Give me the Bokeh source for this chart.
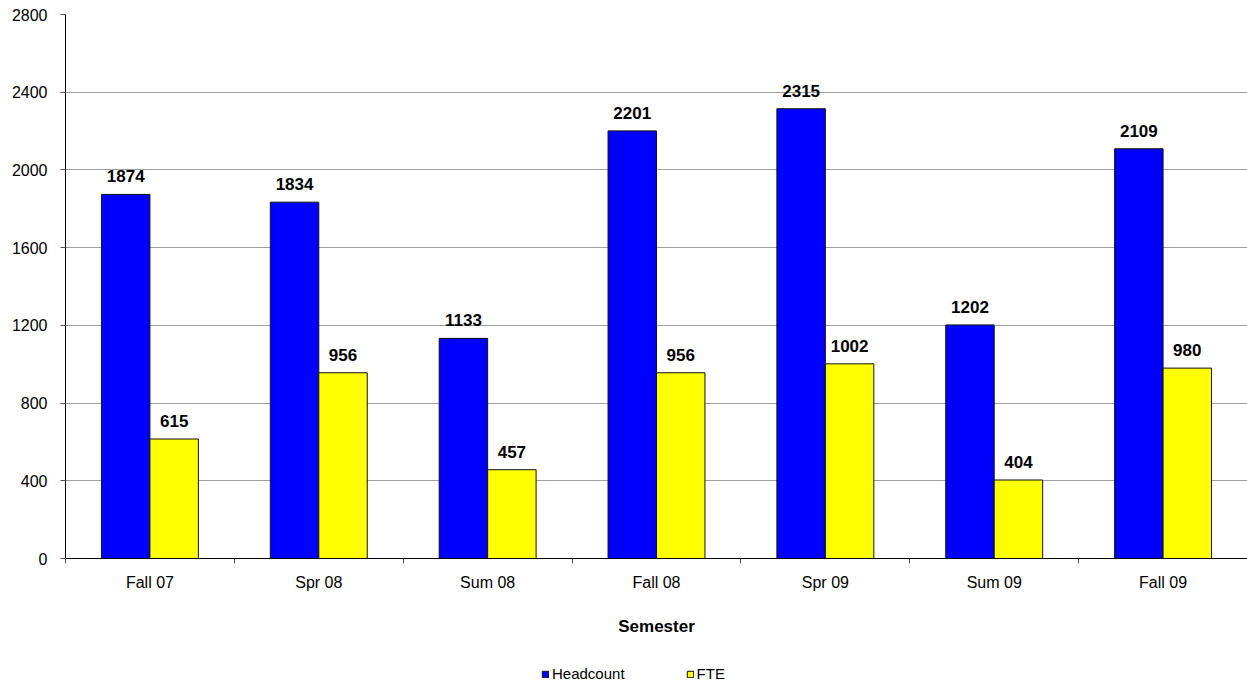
from bokeh.plotting import figure
from bokeh.models import (Range1d, FixedTicker, ColumnDataSource, Legend, LegendItem)
from bokeh.layouts import column
from bokeh.embed import file_html
from bokeh.resources import INLINE
from bokeh.core.properties import value

semesters = ["Fall 07", "Spr 08", "Sum 08", "Fall 08", "Spr 09", "Sum 09", "Fall 09"]
headcount = [1874, 1834, 1133, 2201, 2315, 1202, 2109]
fte = [615, 956, 457, 956, 1002, 404, 980]
y_ticks = [0, 400, 800, 1200, 1600, 2000, 2400, 2800]
series_names = ["Headcount", "FTE"]

FONT = "Liberation Sans"
BLUE = "#0000FF"
YELLOW = "#FFFF00"
OUTLINE = "#111111"
BAR_W = 0.287

centers = [i + 0.5 for i in range(len(semesters))]
src_h = ColumnDataSource(dict(x=[c - BAR_W / 2 for c in centers], y=headcount,
                              t=[str(v) for v in headcount]))
src_f = ColumnDataSource(dict(x=[c + BAR_W / 2 for c in centers], y=fte,
                              t=[str(v) for v in fte]))

p = figure(width=1247, height=645, output_backend="svg", toolbar_location=None,
           x_range=Range1d(0, len(semesters)), y_range=Range1d(0, 2800),
           min_border_left=65, min_border_top=14, min_border_right=0,
           min_border_bottom=87)
p.outline_line_color = None
p.background_fill_color = "white"
p.border_fill_color = "white"

r_h = p.vbar(x="x", top="y", width=BAR_W, source=src_h, fill_color=BLUE,
             line_color=OUTLINE, line_width=1)
r_f = p.vbar(x="x", top="y", width=BAR_W, source=src_f, fill_color=YELLOW,
             line_color=OUTLINE, line_width=1)

for src in (src_h, src_f):
    p.text(x="x", y="y", text="t", source=src, text_align="center",
           text_baseline="middle", y_offset=-18, text_font=value(FONT),
           text_font_size="17px", text_font_style="bold", text_color="black")

# y axis
p.yaxis.ticker = FixedTicker(ticks=y_ticks)
p.yaxis.major_tick_out = 5
p.yaxis.major_tick_in = 0
p.yaxis.minor_tick_out = 0
p.yaxis.minor_tick_in = 0
p.yaxis.axis_line_color = "black"
p.yaxis.major_tick_line_color = "#555555"
p.yaxis.major_label_text_font = FONT
p.yaxis.major_label_text_font_size = "16px"
p.yaxis.major_label_text_color = "black"
p.yaxis.major_label_standoff = 13

# x axis
p.xaxis.ticker = FixedTicker(ticks=centers, minor_ticks=list(range(len(semesters) + 1)))
p.xaxis.major_label_overrides = {c: s for c, s in zip(centers, semesters)}
p.xaxis.major_tick_out = 0
p.xaxis.major_tick_in = 0
p.xaxis.minor_tick_out = 5
p.xaxis.minor_tick_in = 0
p.xaxis.minor_tick_line_color = "#555555"
p.xaxis.axis_line_color = "black"
p.xaxis.major_label_text_font = FONT
p.xaxis.major_label_text_font_size = "16px"
p.xaxis.major_label_text_color = "black"
p.xaxis.major_label_standoff = 10
p.xaxis.axis_label = "Semester"
p.xaxis.axis_label_text_font = FONT
p.xaxis.axis_label_text_font_size = "17px"
p.xaxis.axis_label_text_font_style = "bold"
p.xaxis.axis_label_text_color = "black"
p.xaxis.axis_label_standoff = 23

p.xgrid.grid_line_color = None
p.ygrid.ticker = FixedTicker(ticks=y_ticks)
p.ygrid.grid_line_color = "#A0A0A0"
p.ygrid.grid_line_width = 1

# legend strip below the chart (frames are aligned by the column layout)
lg = figure(width=1247, height=38, output_backend="svg", toolbar_location=None,
            x_range=Range1d(0, 1), y_range=Range1d(0, 1),
            x_axis_type=None, y_axis_type=None,
            min_border_left=0, min_border_right=0, min_border_top=0,
            min_border_bottom=0)
lg.outline_line_color = None
lg.grid.visible = False
lg.border_fill_color = "white"
# legend key renderers: their one bar lies outside the visible range
d_h = lg.vbar(x=[5], top=[5], width=0.1, fill_color=BLUE, line_color=OUTLINE)
d_f = lg.vbar(x=[5], top=[5], width=0.1, fill_color=YELLOW, line_color=OUTLINE)

legend = Legend(items=[LegendItem(label=series_names[0], renderers=[d_h]),
                       LegendItem(label=series_names[1], renderers=[d_f])],
                orientation="horizontal", location=(476, 1),
                glyph_width=8, glyph_height=8, label_standoff=3,
                spacing=61, padding=0, margin=0,
                label_text_font=FONT, label_text_font_size="15px",
                label_text_color="black", border_line_color=None,
                background_fill_alpha=0)
lg.add_layout(legend, "center")

layout = column(p, lg, spacing=0)
open("out.html", "w").write(file_html(layout, INLINE))
